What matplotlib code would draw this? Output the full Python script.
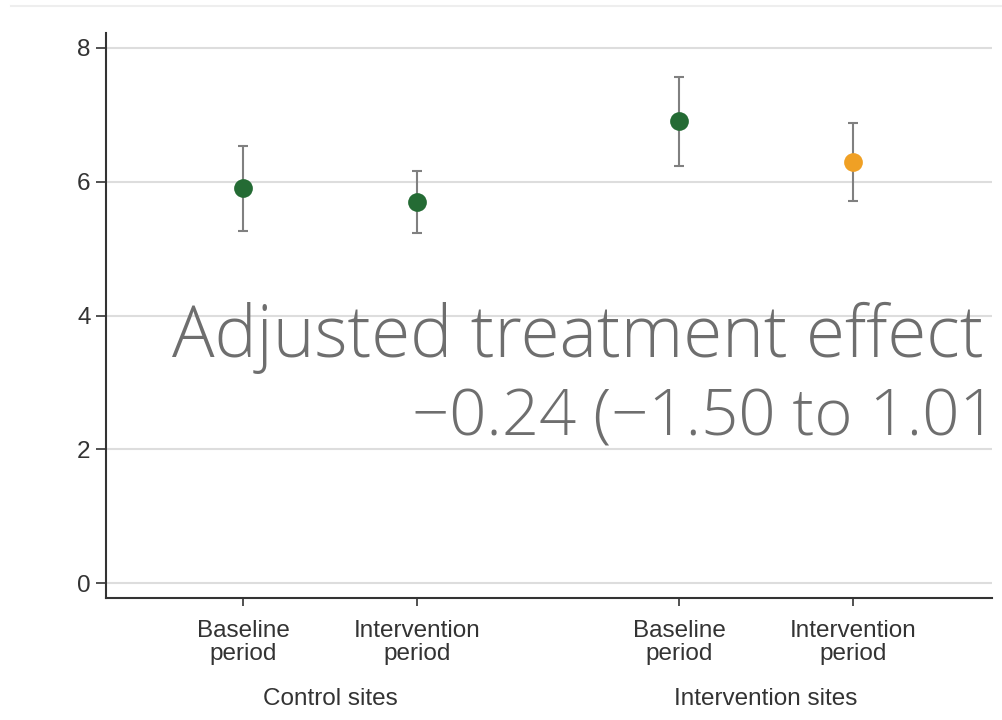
import matplotlib.pyplot as plt
import matplotlib.transforms as mtransforms
from matplotlib.lines import Line2D

# groups / periods
periods = ['Baseline\nperiod', 'Intervention\nperiod', 'Baseline\nperiod', 'Intervention\nperiod']
groups = ['Control sites', 'Intervention sites']
xpos = [1, 2, 3.5, 4.5]

# point estimates and 95% CI
means = [5.90, 5.70, 6.90, 6.30]
ci_low = [5.27, 5.24, 6.24, 5.71]
ci_high = [6.53, 6.16, 7.56, 6.88]
colors = ['#246b34', '#246b34', '#246b34', '#f0a024']

effect_text = ['Adjusted treatment effect', '\u22120.24 (\u22121.50 to 1.01)']

fig = plt.figure(figsize=(10.03, 7.2), dpi=100)
ax = fig.add_axes([0.1057, 0.1694, 0.8833, 0.7846])

for x, m, lo, hi, c in zip(xpos, means, ci_low, ci_high, colors):
    ax.errorbar(x, m, yerr=[[m - lo], [hi - m]], fmt='none', ecolor='#808080',
                elinewidth=1.5, capsize=3.3, capthick=1.5, zorder=2)
    ax.plot(x, m, 'o', color=c, markersize=13.5, markeredgewidth=0, zorder=3)

ax.set_xlim(0.2145, 5.295)
ax.set_ylim(-0.22, 8.22)
ax.set_yticks([0, 2, 4, 6, 8])
ax.set_xticks(xpos)
ax.set_xticklabels(periods, linespacing=1.05)
ax.grid(axis='y', color='#dddddd', linewidth=1.5)
ax.set_axisbelow(True)

for s in ['top', 'right']:
    ax.spines[s].set_visible(False)
for s in ['left', 'bottom']:
    ax.spines[s].set_color('#333333')
    ax.spines[s].set_linewidth(1.5)

ax.tick_params(axis='y', length=7, width=1.2, color='#333333', pad=4,
               labelsize=17.5, labelcolor='#333333')
ax.tick_params(axis='x', length=6, width=1.2, color='#333333', pad=10,
               labelsize=17.5, labelcolor='#333333')
for lab in ax.get_xticklabels() + ax.get_yticklabels():
    lab.set_family('Liberation Sans')

trans = mtransforms.blended_transform_factory(ax.transData, ax.transAxes)
ax.text((xpos[0] + xpos[1]) / 2, -0.189, groups[0], transform=trans, ha='center',
        va='baseline', fontsize=17.5, color='#333333', family='Liberation Sans')
ax.text((xpos[2] + xpos[3]) / 2, -0.189, groups[1], transform=trans, ha='center',
        va='baseline', fontsize=17.5, color='#333333', family='Liberation Sans')

# annotation, clipped by the axes on the right as in the original
ax.text(0.593, 3.38, effect_text[0], ha='left', va='baseline', fontsize=51,
        color='#6e6e6e', family='Open Sans', fontweight=300, clip_on=True)
ax.text(1.969, 2.21, effect_text[1], ha='left', va='baseline', fontsize=47,
        color='#6e6e6e', family='Open Sans', fontweight=300, clip_on=True)

fig.add_artist(Line2D([0.011, 1.0], [0.9917, 0.9917], color='#eeeeee', linewidth=1.5,
                      transform=fig.transFigure))

fig.savefig('out.png', dpi=100)
